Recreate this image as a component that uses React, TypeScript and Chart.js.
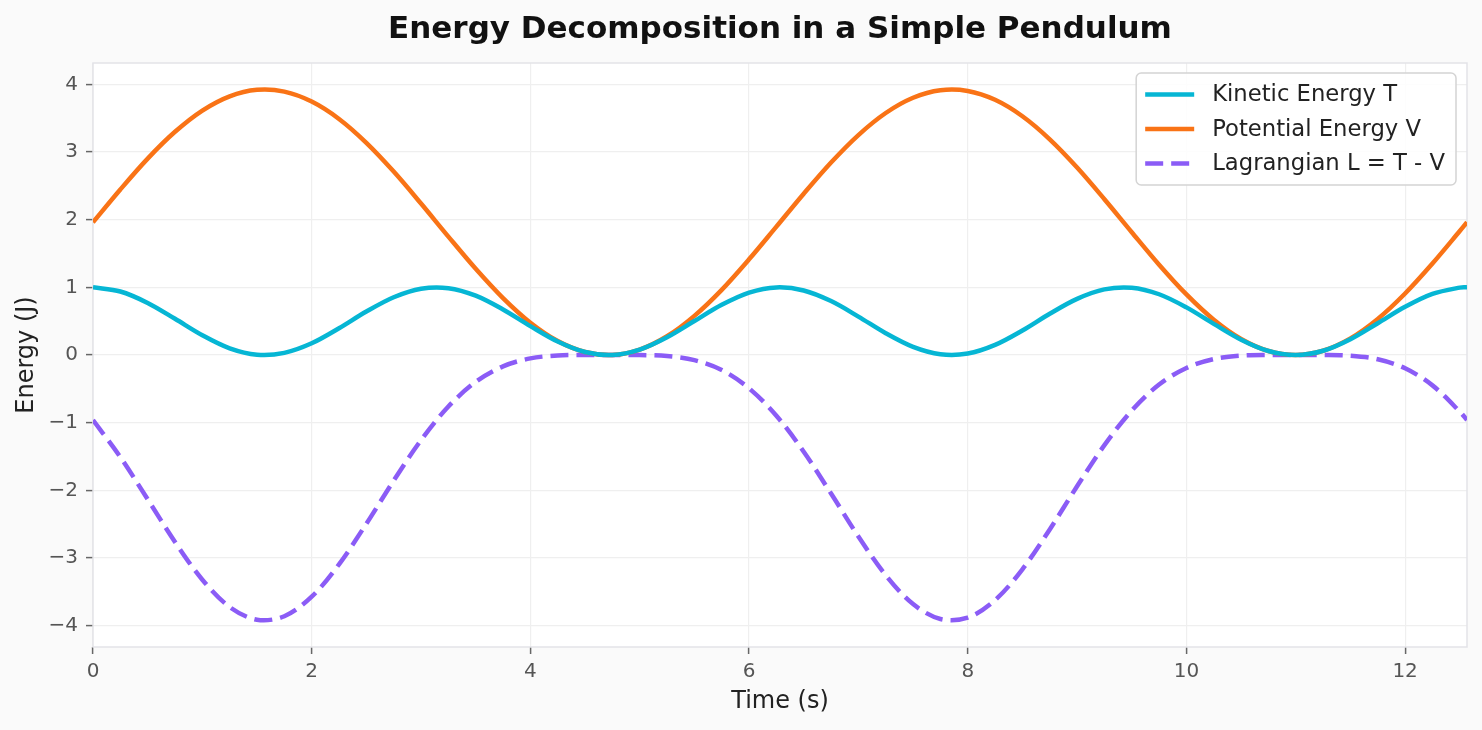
import { useEffect, useRef } from "react";
import { Chart, registerables } from "chart.js";

Chart.register(...registerables);

const timeValues = [
  0, 0.25, 0.5, 0.75, 1, 1.25, 1.5, 1.75, 2, 2.25, 2.5, 2.75, 3, 3.25, 3.5, 3.75,
  4, 4.25, 4.5, 4.75, 5, 5.25, 5.5, 5.75, 6, 6.25, 6.5, 6.75, 7, 7.25, 7.5, 7.75,
  8, 8.25, 8.5, 8.75, 9, 9.25, 9.5, 9.75, 10, 10.25, 10.5, 10.75, 11, 11.25, 11.5,
  11.75, 12, 12.25, 12.5, 12.566,
];

const kineticValues = [
  1.0, 0.939, 0.77, 0.535, 0.292, 0.099, 0.005, 0.032, 0.173, 0.395, 0.642, 0.854,
  0.98, 0.988, 0.877, 0.673, 0.427, 0.199, 0.044, 0.001, 0.08, 0.262, 0.502, 0.741,
  0.922, 0.999, 0.954, 0.797, 0.568, 0.322, 0.12, 0.011, 0.021, 0.149, 0.362, 0.61,
  0.83, 0.97, 0.994, 0.898, 0.704, 0.46, 0.226, 0.059, 0.0, 0.063, 0.234, 0.47,
  0.712, 0.903, 0.996, 1.0,
];

const potentialValues = [
  1.962, 2.447, 2.903, 3.299, 3.613, 3.824, 3.919, 3.893, 3.746, 3.489, 3.136, 2.711,
  2.239, 1.75, 1.274, 0.841, 0.477, 0.206, 0.044, 0.001, 0.081, 0.277, 0.578, 0.963,
  1.414, 1.897, 2.384, 2.845, 3.251, 3.577, 3.802, 3.913, 3.903, 3.772, 3.529, 3.188,
  2.771, 2.303, 1.815, 1.335, 0.895, 0.521, 0.236, 0.059, 0.0, 0.063, 0.245, 0.533,
  0.909, 1.352, 1.832, 1.962,
];

const lagrangianValues = [
  -0.962, -1.508, -2.133, -2.764, -3.321, -3.725, -3.914, -3.861, -3.573, -3.094,
  -2.494, -1.857, -1.259, -0.762, -0.397, -0.168, -0.05, -0.007, 0.0, 0.0, -0.001,
  -0.015, -0.076, -0.222, -0.492, -0.898, -1.43, -2.048, -2.683, -3.255, -3.682,
  -3.902, -3.882, -3.623, -3.167, -2.578, -1.941, -1.333, -0.821, -0.437, -0.191,
  -0.061, -0.01, 0.0, 0.0, 0.0, -0.011, -0.063, -0.197, -0.449, -0.836, -0.962,
];

const seriesLabels = ["Kinetic Energy T", "Potential Energy V", "Lagrangian L = T - V"];
const seriesColors = ["#06b6d4", "#f97316", "#8b5cf6"];
const seriesDashed = [false, false, true];

const xTickValues = [0, 2, 4, 6, 8, 10, 12];
const yTickValues = [-4, -3, -2, -1, 0, 1, 2, 3, 4];
const xRange = [0, 12.566];
const yRange = [-4.316, 4.316];

const chartTitle = "Energy Decomposition in a Simple Pendulum";
const xAxisTitle = "Time (s)";
const yAxisTitle = "Energy (J)";

const FONT = "'DejaVu Sans', sans-serif";
const LINE_WIDTH = 4.5;
const DASH = [18, 8];

const fmtTick = (v: number | string) => String(v).replace("-", "\u2212");

const backgroundPlugin = {
  id: "bgPlugin",
  beforeDraw(chart: any) {
    const { ctx, chartArea, width, height } = chart;
    ctx.save();
    ctx.fillStyle = "#fafafa";
    ctx.fillRect(0, 0, width, height);
    ctx.fillStyle = "#ffffff";
    ctx.fillRect(chartArea.left, chartArea.top, chartArea.right - chartArea.left, chartArea.bottom - chartArea.top);
    ctx.restore();
  },
  beforeDatasetsDraw(chart: any) {
    const { ctx, chartArea } = chart;
    ctx.save();
    ctx.strokeStyle = "#e3e3e8";
    ctx.lineWidth = 1.5;
    ctx.strokeRect(chartArea.left, chartArea.top, chartArea.right - chartArea.left, chartArea.bottom - chartArea.top);
    ctx.restore();
  },
};

const legendPlugin = {
  id: "boxLegend",
  afterDraw(chart: any) {
    const { ctx, chartArea } = chart;
    const datasets = chart.data.datasets;
    ctx.save();
    ctx.font = `22.7px ${FONT}`;
    let maxW = 0;
    datasets.forEach((d: any) => {
      maxW = Math.max(maxW, ctx.measureText(d.label).width);
    });
    const padL = 9;
    const handleLen = 49;
    const gap = 18;
    const padR = 11;
    const rowH = 34.5;
    const padV = 21.5;
    const w = padL + handleLen + gap + maxW + padR;
    const h = padV * 2 + rowH * (datasets.length - 1);
    const x0 = chartArea.right - 11 - w;
    const y0 = chartArea.top + 10;
    ctx.beginPath();
    ctx.roundRect(x0, y0, w, h, 5);
    ctx.fillStyle = "rgba(255,255,255,0.85)";
    ctx.fill();
    ctx.strokeStyle = "#d4d4d4";
    ctx.lineWidth = 1.5;
    ctx.stroke();
    datasets.forEach((d: any, i: number) => {
      const cy = y0 + padV + i * rowH;
      ctx.beginPath();
      ctx.setLineDash(d.borderDash || []);
      ctx.lineCap = "butt";
      ctx.strokeStyle = d.borderColor;
      ctx.lineWidth = d.borderWidth;
      ctx.moveTo(x0 + padL, cy);
      ctx.lineTo(x0 + padL + handleLen, cy);
      ctx.stroke();
      ctx.setLineDash([]);
      ctx.fillStyle = "#222222";
      ctx.textAlign = "left";
      ctx.textBaseline = "middle";
      ctx.fillText(d.label, x0 + padL + handleLen + gap, cy + 1);
    });
    ctx.restore();
  },
};

export default function App() {
  const canvasRef = useRef<HTMLCanvasElement | null>(null);

  useEffect(() => {
    document.body.style.margin = "0";
    document.body.style.background = "#fafafa";
    const canvas = canvasRef.current;
    if (!canvas) return;
    Chart.defaults.font.family = FONT;

    const seriesValues = [kineticValues, potentialValues, lagrangianValues];
    const datasets = seriesValues.map((vals, i) => ({
      label: seriesLabels[i],
      data: timeValues.map((t, j) => ({ x: t, y: vals[j] })),
      borderColor: seriesColors[i],
      backgroundColor: seriesColors[i],
      borderWidth: LINE_WIDTH,
      borderDash: seriesDashed[i] ? DASH : [],
      pointRadius: 0,
      fill: false,
      tension: 0.33,
      borderCapStyle: "butt" as const,
    }));

    const chart = new Chart(canvas, {
      type: "line",
      data: { datasets },
      plugins: [backgroundPlugin, legendPlugin],
      options: {
        responsive: false,
        animation: false,
        devicePixelRatio: 1,
        layout: { padding: { top: 0, left: 0, right: 15, bottom: 0 } },
        plugins: {
          legend: { display: false },
          tooltip: { enabled: false },
          title: {
            display: true,
            text: chartTitle,
            fullSize: false,
            color: "#111111",
            font: { size: 31, weight: "bold", family: FONT },
            padding: { top: 11.2, bottom: 14.6 },
          },
        },
        scales: {
          x: {
            type: "linear",
            min: xRange[0],
            max: xRange[1],
            afterBuildTicks: (s: any) => {
              s.ticks = xTickValues.map((v) => ({ value: v }));
            },
            afterFit: (s: any) => {
              s.height = 83;
            },
            border: { display: false },
            grid: { color: "#efefef", lineWidth: 1.2, tickColor: "#666666", tickLength: 7, tickWidth: 1.5 },
            ticks: {
              color: "#555555",
              font: { size: 20 },
              padding: 6,
              maxRotation: 0,
              autoSkip: false,
              callback: (v: any) => fmtTick(v),
            },
            title: {
              display: true,
              text: xAxisTitle,
              color: "#222222",
              font: { size: 24 },
              padding: { top: 0, bottom: 14 },
            },
          },
          y: {
            type: "linear",
            min: yRange[0],
            max: yRange[1],
            afterBuildTicks: (s: any) => {
              s.ticks = yTickValues.map((v) => ({ value: v }));
            },
            afterFit: (s: any) => {
              s.width = 93;
            },
            border: { display: false },
            grid: { color: "#efefef", lineWidth: 1.2, tickColor: "#666666", tickLength: 7, tickWidth: 1.5 },
            ticks: {
              color: "#555555",
              font: { size: 20 },
              padding: 8,
              autoSkip: false,
              callback: (v: any) => fmtTick(v),
            },
            title: {
              display: true,
              text: yAxisTitle,
              color: "#222222",
              font: { size: 24 },
              padding: { top: 12.5, bottom: 0 },
            },
          },
        },
      },
    } as any);

    return () => {
      chart.destroy();
    };
  }, []);

  return (
    <div style={{ position: "absolute", left: 0, top: 0, width: 1482, height: 730 }}>
      <canvas ref={canvasRef} width={1482} height={730} style={{ display: "block" }} />
    </div>
  );
}
